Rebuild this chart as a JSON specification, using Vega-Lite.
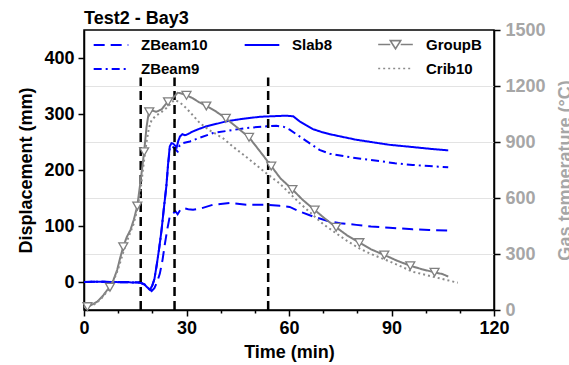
{
  "$schema": "https://vega.github.io/schema/vega-lite/v6.json",
  "autosize": "none",
  "width": 410,
  "height": 280,
  "padding": {"left": 84, "top": 30, "right": 75, "bottom": 55},
  "title": {"text": "Test2 - Bay3", "anchor": "start", "frame": "group", "fontSize": 18, "fontWeight": "bold", "color": "black", "offset": 7, "dy": 14},
  "config": {
    "font": "Liberation Sans",
    "view": {"stroke": "black", "strokeWidth": 1.5},
    "axis": {
      "labelFontSize": 18, "labelFontWeight": "bold", "labelColor": "black",
      "titleFontSize": 18, "titleFontWeight": "bold", "titleColor": "black",
      "domainColor": "black", "domainWidth": 1.5, "tickColor": "black", "tickWidth": 1.5,
      "labelFlush": false, "labelOverlap": false, "grid": false
    },
    "legend": {"labelFontSize": 15, "labelFontWeight": "bold", "labelColor": "black"}
  },
  "datasets": {
    "disp": [
      {"series": "ZBeam10", "t": 0, "v": 0}, {"series": "ZBeam10", "t": 5, "v": 0.5}, {"series": "ZBeam10", "t": 10, "v": 0}, {"series": "ZBeam10", "t": 14, "v": 0}, {"series": "ZBeam10", "t": 16.4, "v": -1}, {"series": "ZBeam10", "t": 18, "v": -5}, {"series": "ZBeam10", "t": 19.2, "v": -12}, {"series": "ZBeam10", "t": 19.8, "v": -16}, {"series": "ZBeam10", "t": 20.6, "v": -11}, {"series": "ZBeam10", "t": 21.4, "v": 0}, {"series": "ZBeam10", "t": 22.2, "v": 15}, {"series": "ZBeam10", "t": 23, "v": 40}, {"series": "ZBeam10", "t": 23.7, "v": 69}, {"series": "ZBeam10", "t": 24.4, "v": 95}, {"series": "ZBeam10", "t": 25.1, "v": 117}, {"series": "ZBeam10", "t": 26.1, "v": 123}, {"series": "ZBeam10", "t": 26.8, "v": 126}, {"series": "ZBeam10", "t": 27.4, "v": 121}, {"series": "ZBeam10", "t": 28.2, "v": 129}, {"series": "ZBeam10", "t": 29, "v": 132}, {"series": "ZBeam10", "t": 30.5, "v": 130}, {"series": "ZBeam10", "t": 31.9, "v": 129}, {"series": "ZBeam10", "t": 34, "v": 131}, {"series": "ZBeam10", "t": 37.8, "v": 138}, {"series": "ZBeam10", "t": 42.7, "v": 141}, {"series": "ZBeam10", "t": 47.5, "v": 138}, {"series": "ZBeam10", "t": 53.4, "v": 138}, {"series": "ZBeam10", "t": 57.3, "v": 136}, {"series": "ZBeam10", "t": 60.2, "v": 134}, {"series": "ZBeam10", "t": 63.1, "v": 126}, {"series": "ZBeam10", "t": 67, "v": 117}, {"series": "ZBeam10", "t": 71.9, "v": 108}, {"series": "ZBeam10", "t": 75, "v": 105}, {"series": "ZBeam10", "t": 79.7, "v": 102}, {"series": "ZBeam10", "t": 84, "v": 99}, {"series": "ZBeam10", "t": 89.4, "v": 97}, {"series": "ZBeam10", "t": 96.2, "v": 94}, {"series": "ZBeam10", "t": 101, "v": 93}, {"series": "ZBeam10", "t": 106.6, "v": 92},
      {"series": "ZBeam9", "t": 0, "v": 0}, {"series": "ZBeam9", "t": 4, "v": 0.5}, {"series": "ZBeam9", "t": 8, "v": 0}, {"series": "ZBeam9", "t": 12, "v": -0.5}, {"series": "ZBeam9", "t": 16.4, "v": -1}, {"series": "ZBeam9", "t": 17.6, "v": -4}, {"series": "ZBeam9", "t": 18.6, "v": -10}, {"series": "ZBeam9", "t": 19.3, "v": -14}, {"series": "ZBeam9", "t": 20, "v": -6}, {"series": "ZBeam9", "t": 20.6, "v": 5}, {"series": "ZBeam9", "t": 21.2, "v": 27}, {"series": "ZBeam9", "t": 22, "v": 60}, {"series": "ZBeam9", "t": 22.7, "v": 93}, {"series": "ZBeam9", "t": 23.4, "v": 133}, {"series": "ZBeam9", "t": 24.1, "v": 171}, {"series": "ZBeam9", "t": 24.6, "v": 208}, {"series": "ZBeam9", "t": 25.1, "v": 238}, {"series": "ZBeam9", "t": 25.6, "v": 243}, {"series": "ZBeam9", "t": 26.1, "v": 241}, {"series": "ZBeam9", "t": 26.8, "v": 236}, {"series": "ZBeam9", "t": 27.4, "v": 233}, {"series": "ZBeam9", "t": 28, "v": 244}, {"series": "ZBeam9", "t": 29, "v": 248}, {"series": "ZBeam9", "t": 31, "v": 251}, {"series": "ZBeam9", "t": 34, "v": 258}, {"series": "ZBeam9", "t": 37.8, "v": 266}, {"series": "ZBeam9", "t": 42, "v": 270}, {"series": "ZBeam9", "t": 47.5, "v": 275}, {"series": "ZBeam9", "t": 53.4, "v": 278}, {"series": "ZBeam9", "t": 56.3, "v": 279}, {"series": "ZBeam9", "t": 58.5, "v": 277}, {"series": "ZBeam9", "t": 60.2, "v": 272}, {"series": "ZBeam9", "t": 63.1, "v": 260}, {"series": "ZBeam9", "t": 66, "v": 248}, {"series": "ZBeam9", "t": 68.9, "v": 236}, {"series": "ZBeam9", "t": 72, "v": 229}, {"series": "ZBeam9", "t": 76.7, "v": 224}, {"series": "ZBeam9", "t": 81, "v": 220}, {"series": "ZBeam9", "t": 86.5, "v": 216}, {"series": "ZBeam9", "t": 91, "v": 212}, {"series": "ZBeam9", "t": 96.2, "v": 209}, {"series": "ZBeam9", "t": 101, "v": 207}, {"series": "ZBeam9", "t": 106.6, "v": 205},
      {"series": "Slab8", "t": 0, "v": 0}, {"series": "Slab8", "t": 4, "v": 0.5}, {"series": "Slab8", "t": 8, "v": 0}, {"series": "Slab8", "t": 12, "v": -0.5}, {"series": "Slab8", "t": 16.4, "v": -1}, {"series": "Slab8", "t": 17.6, "v": -4}, {"series": "Slab8", "t": 18.6, "v": -10}, {"series": "Slab8", "t": 19.3, "v": -14}, {"series": "Slab8", "t": 20, "v": -6}, {"series": "Slab8", "t": 20.6, "v": 5}, {"series": "Slab8", "t": 21.2, "v": 27}, {"series": "Slab8", "t": 22, "v": 60}, {"series": "Slab8", "t": 22.7, "v": 93}, {"series": "Slab8", "t": 23.4, "v": 133}, {"series": "Slab8", "t": 24.1, "v": 171}, {"series": "Slab8", "t": 24.6, "v": 210}, {"series": "Slab8", "t": 25.1, "v": 242}, {"series": "Slab8", "t": 25.6, "v": 248}, {"series": "Slab8", "t": 26.1, "v": 247}, {"series": "Slab8", "t": 26.6, "v": 244}, {"series": "Slab8", "t": 27.1, "v": 240}, {"series": "Slab8", "t": 27.6, "v": 252}, {"series": "Slab8", "t": 28.1, "v": 260}, {"series": "Slab8", "t": 28.8, "v": 264}, {"series": "Slab8", "t": 29.5, "v": 262}, {"series": "Slab8", "t": 30, "v": 263}, {"series": "Slab8", "t": 31, "v": 266}, {"series": "Slab8", "t": 31.9, "v": 269}, {"series": "Slab8", "t": 33.5, "v": 273}, {"series": "Slab8", "t": 35.8, "v": 278}, {"series": "Slab8", "t": 38.5, "v": 282}, {"series": "Slab8", "t": 41.7, "v": 287}, {"series": "Slab8", "t": 46, "v": 291}, {"series": "Slab8", "t": 51.4, "v": 295}, {"series": "Slab8", "t": 55, "v": 296}, {"series": "Slab8", "t": 59.2, "v": 297}, {"series": "Slab8", "t": 61.2, "v": 296}, {"series": "Slab8", "t": 63.1, "v": 287}, {"series": "Slab8", "t": 65, "v": 280}, {"series": "Slab8", "t": 67, "v": 273}, {"series": "Slab8", "t": 69.5, "v": 268}, {"series": "Slab8", "t": 71.9, "v": 264}, {"series": "Slab8", "t": 75, "v": 260}, {"series": "Slab8", "t": 79.7, "v": 254}, {"series": "Slab8", "t": 84, "v": 250}, {"series": "Slab8", "t": 89.4, "v": 245}, {"series": "Slab8", "t": 96.2, "v": 241}, {"series": "Slab8", "t": 101, "v": 238}, {"series": "Slab8", "t": 106.6, "v": 235}
    ],
    "temp": [
      {"series": "GroupB", "t": 0, "v": 15, "marker": false}, {"series": "GroupB", "t": 1, "v": 18, "marker": true}, {"series": "GroupB", "t": 2.5, "v": 30, "marker": false}, {"series": "GroupB", "t": 3.9, "v": 45, "marker": false}, {"series": "GroupB", "t": 5.5, "v": 75, "marker": false}, {"series": "GroupB", "t": 6.8, "v": 107, "marker": false}, {"series": "GroupB", "t": 7.6, "v": 122, "marker": true}, {"series": "GroupB", "t": 8.6, "v": 160, "marker": false}, {"series": "GroupB", "t": 9.7, "v": 214, "marker": false}, {"series": "GroupB", "t": 10.6, "v": 280, "marker": false}, {"series": "GroupB", "t": 11.5, "v": 339, "marker": true}, {"series": "GroupB", "t": 12.5, "v": 390, "marker": false}, {"series": "GroupB", "t": 13.6, "v": 429, "marker": false}, {"series": "GroupB", "t": 14.6, "v": 485, "marker": false}, {"series": "GroupB", "t": 15.6, "v": 557, "marker": true}, {"series": "GroupB", "t": 16.6, "v": 696, "marker": false}, {"series": "GroupB", "t": 17.6, "v": 848, "marker": true}, {"series": "GroupB", "t": 18.3, "v": 980, "marker": false}, {"series": "GroupB", "t": 18.8, "v": 1040, "marker": false}, {"series": "GroupB", "t": 19.1, "v": 1062, "marker": true}, {"series": "GroupB", "t": 20, "v": 1068, "marker": false}, {"series": "GroupB", "t": 21.2, "v": 1062, "marker": false}, {"series": "GroupB", "t": 22.7, "v": 1075, "marker": false}, {"series": "GroupB", "t": 23.6, "v": 1095, "marker": false}, {"series": "GroupB", "t": 24.6, "v": 1116, "marker": true}, {"series": "GroupB", "t": 25.5, "v": 1130, "marker": false}, {"series": "GroupB", "t": 26.4, "v": 1143, "marker": false}, {"series": "GroupB", "t": 27.4, "v": 1164, "marker": false}, {"series": "GroupB", "t": 28.5, "v": 1160, "marker": false}, {"series": "GroupB", "t": 30, "v": 1150, "marker": true}, {"series": "GroupB", "t": 31.8, "v": 1135, "marker": false}, {"series": "GroupB", "t": 33.4, "v": 1116, "marker": false}, {"series": "GroupB", "t": 35.8, "v": 1093, "marker": true}, {"series": "GroupB", "t": 38.5, "v": 1065, "marker": false}, {"series": "GroupB", "t": 41.5, "v": 1027, "marker": true}, {"series": "GroupB", "t": 45, "v": 975, "marker": false}, {"series": "GroupB", "t": 48.3, "v": 925, "marker": true}, {"series": "GroupB", "t": 51.5, "v": 850, "marker": false}, {"series": "GroupB", "t": 54.8, "v": 771, "marker": true}, {"series": "GroupB", "t": 57.5, "v": 705, "marker": false}, {"series": "GroupB", "t": 61, "v": 646, "marker": true}, {"series": "GroupB", "t": 64, "v": 590, "marker": false}, {"series": "GroupB", "t": 67.5, "v": 536, "marker": true}, {"series": "GroupB", "t": 70.5, "v": 490, "marker": false}, {"series": "GroupB", "t": 73.8, "v": 443, "marker": true}, {"series": "GroupB", "t": 77, "v": 400, "marker": false}, {"series": "GroupB", "t": 80.6, "v": 361, "marker": true}, {"series": "GroupB", "t": 84, "v": 325, "marker": false}, {"series": "GroupB", "t": 87.9, "v": 295, "marker": true}, {"series": "GroupB", "t": 91.5, "v": 265, "marker": false}, {"series": "GroupB", "t": 95.5, "v": 237, "marker": true}, {"series": "GroupB", "t": 99, "v": 218, "marker": false}, {"series": "GroupB", "t": 102.6, "v": 202, "marker": true}, {"series": "GroupB", "t": 105, "v": 192, "marker": false}, {"series": "GroupB", "t": 106.6, "v": 179, "marker": false},
      {"series": "Crib10", "t": 0, "v": 15, "marker": false}, {"series": "Crib10", "t": 3, "v": 30, "marker": false}, {"series": "Crib10", "t": 5, "v": 60, "marker": false}, {"series": "Crib10", "t": 7, "v": 105, "marker": false}, {"series": "Crib10", "t": 8.5, "v": 150, "marker": false}, {"series": "Crib10", "t": 10, "v": 220, "marker": false}, {"series": "Crib10", "t": 11.5, "v": 310, "marker": false}, {"series": "Crib10", "t": 13, "v": 390, "marker": false}, {"series": "Crib10", "t": 14.5, "v": 460, "marker": false}, {"series": "Crib10", "t": 15.6, "v": 540, "marker": false}, {"series": "Crib10", "t": 16.6, "v": 650, "marker": false}, {"series": "Crib10", "t": 17.5, "v": 790, "marker": false}, {"series": "Crib10", "t": 18.3, "v": 900, "marker": false}, {"series": "Crib10", "t": 19, "v": 975, "marker": false}, {"series": "Crib10", "t": 19.8, "v": 1018, "marker": false}, {"series": "Crib10", "t": 21, "v": 1040, "marker": false}, {"series": "Crib10", "t": 22.2, "v": 1054, "marker": false}, {"series": "Crib10", "t": 23.5, "v": 1072, "marker": false}, {"series": "Crib10", "t": 24.6, "v": 1089, "marker": false}, {"series": "Crib10", "t": 25.6, "v": 1110, "marker": false}, {"series": "Crib10", "t": 26.4, "v": 1125, "marker": false}, {"series": "Crib10", "t": 27.2, "v": 1120, "marker": false}, {"series": "Crib10", "t": 28.5, "v": 1105, "marker": false}, {"series": "Crib10", "t": 30, "v": 1080, "marker": false}, {"series": "Crib10", "t": 31.5, "v": 1050, "marker": false}, {"series": "Crib10", "t": 34, "v": 1000, "marker": false}, {"series": "Crib10", "t": 37, "v": 960, "marker": false}, {"series": "Crib10", "t": 40.7, "v": 920, "marker": false}, {"series": "Crib10", "t": 43.6, "v": 875, "marker": false}, {"series": "Crib10", "t": 47.5, "v": 820, "marker": false}, {"series": "Crib10", "t": 50.5, "v": 775, "marker": false}, {"series": "Crib10", "t": 53.4, "v": 732, "marker": false}, {"series": "Crib10", "t": 57.2, "v": 679, "marker": false}, {"series": "Crib10", "t": 60.2, "v": 625, "marker": false}, {"series": "Crib10", "t": 63, "v": 575, "marker": false}, {"series": "Crib10", "t": 67, "v": 509, "marker": false}, {"series": "Crib10", "t": 70, "v": 460, "marker": false}, {"series": "Crib10", "t": 73.8, "v": 411, "marker": false}, {"series": "Crib10", "t": 77, "v": 370, "marker": false}, {"series": "Crib10", "t": 80.6, "v": 330, "marker": false}, {"series": "Crib10", "t": 84, "v": 300, "marker": false}, {"series": "Crib10", "t": 88.4, "v": 268, "marker": false}, {"series": "Crib10", "t": 92, "v": 240, "marker": false}, {"series": "Crib10", "t": 96.2, "v": 205, "marker": false}, {"series": "Crib10", "t": 100, "v": 188, "marker": false}, {"series": "Crib10", "t": 104, "v": 170, "marker": false}, {"series": "Crib10", "t": 107, "v": 157, "marker": false}, {"series": "Crib10", "t": 109.4, "v": 146, "marker": false}
    ],
    "events": [{"t": 16.6}, {"t": 26.5}, {"t": 53.9}]
  },
  "encoding": {
    "x": {"field": "t", "type": "quantitative", "scale": {"domain": [0, 120], "nice": false},
      "axis": {"title": "Time (min)", "values": [0, 10, 20, 30, 40, 50, 60, 70, 80, 90, 100, 110, 120],
        "labelExpr": "datum.value % 30 === 0 ? datum.label : ''", "labelOverlap": false,
        "tickSize": {"condition": {"test": "datum.value % 30 === 0", "value": 6}, "value": 3},
        "labelPadding": 3, "titleY": 42, "titleBaseline": "middle"}}
  },
  "layer": [
    {
      "layer": [
        {
          "data": {"name": "disp"},
          "mark": {"type": "line", "strokeWidth": 2},
          "encoding": {
            "y": {"field": "v", "type": "quantitative", "scale": {"domain": [-50, 450], "nice": false},
              "axis": {"title": "Displacement (mm)", "values": [0, 50, 100, 150, 200, 250, 300, 350, 400],
                "labelExpr": "datum.value % 100 === 0 ? datum.label : ''", "labelOverlap": false,
                "tickSize": {"condition": {"test": "datum.value % 100 === 0", "value": 6}, "value": 3},
                "labelPadding": 4, "titleX": -58, "titleY": 140, "titleAngle": 270, "titleBaseline": "middle", "titleAlign": "center"}},
            "color": {"field": "series", "type": "nominal",
              "scale": {"domain": ["ZBeam10", "ZBeam9", "Slab8"], "range": ["#0000ff", "#0000ff", "#0000ff"]},
              "legend": {"orient": "none", "legendX": 17, "legendY": 5, "title": null, "columns": 2, "columnPadding": 32, "rowPadding": 6,
                "symbolType": "M-2,0H2", "symbolSize": 300, "symbolStrokeWidth": 2, "labelOffset": 20}},
            "strokeDash": {"field": "series", "type": "nominal",
              "scale": {"domain": ["ZBeam10", "ZBeam9", "Slab8"], "range": [[11, 6], [8, 4, 2, 4], [1, 0]]},
              "legend": {"orient": "none", "legendX": 17, "legendY": 5, "title": null, "columns": 2, "columnPadding": 32, "rowPadding": 6,
                "symbolType": "M-2,0H2", "symbolSize": 300, "symbolStrokeWidth": 2, "labelOffset": 20}}
          }
        },
        {
          "data": {"name": "events"},
          "mark": {"type": "rule", "strokeWidth": 2.5, "strokeDash": [9, 5], "color": "black"},
          "encoding": {
            "y": {"datum": -50, "type": "quantitative"},
            "y2": {"datum": 365}
          }
        }
      ]
    },
    {
      "layer": [
        {
          "data": {"name": "temp"},
          "mark": {"type": "line", "strokeWidth": 2},
          "encoding": {
            "y": {"field": "v", "type": "quantitative", "scale": {"domain": [0, 1500], "nice": false},
              "axis": {"orient": "right", "title": "Gas temperature (°C)", "values": [0, 150, 300, 450, 600, 750, 900, 1050, 1200, 1350, 1500],
                "format": "d", "labelExpr": "datum.value % 300 === 0 ? datum.label : ''", "labelOverlap": false,
                "tickSize": {"condition": {"test": "datum.value % 300 === 0", "value": 6}, "value": 3},
                "labelColor": "#a6a6a6", "titleColor": "#a6a6a6", "labelPadding": 5,
                "grid": true, "gridColor": "#e3e3e3", "gridWidth": 1.2,
                "gridOpacity": {"condition": {"test": "datum.value % 300 === 0 && datum.value > 0 && datum.value < 1500", "value": 1}, "value": 0},
                "titleX": 71, "titleY": 140, "titleAngle": 270, "titleBaseline": "middle", "titleAlign": "center"}},
            "color": {"field": "series", "type": "nominal",
              "scale": {"domain": ["GroupB", "Crib10"], "range": ["#808080", "#8c8c8c"]},
              "legend": {"orient": "none", "legendX": 302, "legendY": 5, "title": null, "rowPadding": 6,
                "symbolType": "M-2,0H2", "symbolSize": 300, "symbolStrokeWidth": 1.6, "labelOffset": 21,
                "encode": {"symbols": {"update": {"shape": {"signal": "datum.value === 'GroupB' ? 'M-2,0H-0.6M0.6,0H2M-0.6,-0.45L0.6,-0.45L0,0.5Z' : 'M-2,0H2'"}, "fill": {"value": "white"}}}}}},
            "strokeDash": {"field": "series", "type": "nominal",
              "scale": {"domain": ["GroupB", "Crib10"], "range": [[1, 0], [2, 3]]},
              "legend": {"orient": "none", "legendX": 302, "legendY": 5, "title": null, "rowPadding": 6,
                "symbolType": "M-2,0H2", "symbolSize": 300, "symbolStrokeWidth": 1.6, "labelOffset": 21,
                "encode": {"symbols": {"update": {"shape": {"signal": "datum.value === 'GroupB' ? 'M-2,0H-0.6M0.6,0H2M-0.6,-0.45L0.6,-0.45L0,0.5Z' : 'M-2,0H2'"}, "fill": {"value": "white"}}}}}}
          }
        },
        {
          "data": {"name": "temp"},
          "transform": [{"filter": "datum.marker"}],
          "mark": {"type": "point", "shape": "triangle-down", "size": 80, "filled": true, "fill": "white", "stroke": "#808080", "strokeWidth": 1.3, "opacity": 1},
          "encoding": {
            "y": {"field": "v", "type": "quantitative"}
          }
        }
      ]
    }
  ],
  "resolve": {"scale": {"y": "independent", "color": "independent", "strokeDash": "independent"}}
}
